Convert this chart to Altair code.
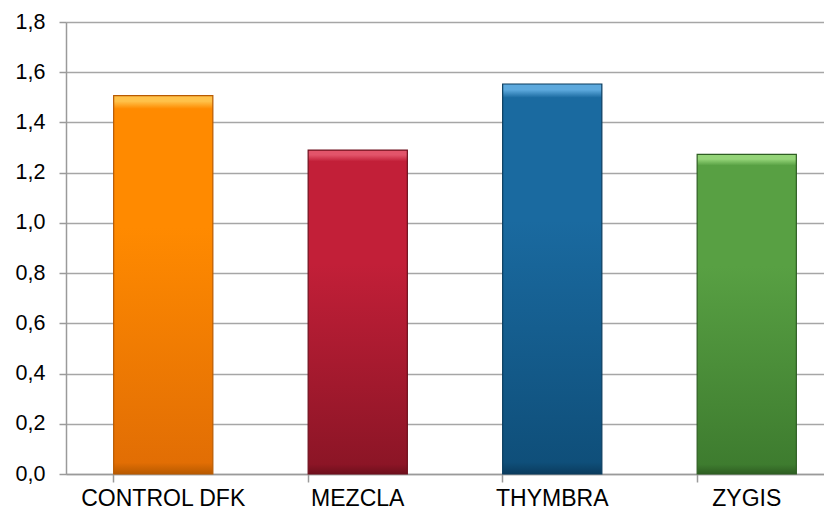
import altair as alt
import pandas as pd

categories = ["CONTROL DFK", "MEZCLA", "THYMBRA", "ZYGIS"]
values = [1.507, 1.290, 1.553, 1.273]
y_ticks = [0.0, 0.2, 0.4, 0.6, 0.8, 1.0, 1.2, 1.4, 1.6, 1.8]

# (highlight, main top, bottom, edge)
palettes = [
    ("#FFC24A", "#FF8A00", "#E26E04", "#B85A00"),
    ("#E2546A", "#C21F38", "#8C1526", "#6E0F1C"),
    ("#5DA9DD", "#1A6AA0", "#0F4F7A", "#0A3C5E"),
    ("#94D478", "#58A043", "#3E7C2F", "#2E5E22"),
]

df = pd.DataFrame({"cat": categories, "val": values})

FONT = "Liberation Sans"

x_enc = alt.X(
    "cat:N",
    sort=categories,
    scale=alt.Scale(domain=categories, range=[0, 778], paddingInner=0.49, paddingOuter=0.245),
    axis=alt.Axis(
        title=None, labelAngle=0, bandPosition=0, tickSize=8, labelPadding=5,
        labelFont=FONT, labelFontSize=23, labelColor="#000000",
        domainColor="#9A9A9A", tickColor="#9A9A9A", domainWidth=1.5, tickWidth=1.5,
        grid=False,
    ),
)
y_enc = alt.Y(
    "val:Q",
    scale=alt.Scale(domain=[0, 1.8], nice=False),
    axis=alt.Axis(
        title=None, values=y_ticks, tickSize=7, labelPadding=14,
        labelFont=FONT, labelFontSize=21.5, labelColor="#000000",
        labelExpr="replace(format(datum.value, '.1f'), '.', ',')",
        domainColor="#9A9A9A", tickColor="#9A9A9A", gridColor="#A6A6A6",
        domainWidth=1.5, tickWidth=1.5, gridWidth=1.5, grid=True,
    ),
)

layers = []
for cat, (hi, top, bot, edge) in zip(categories, palettes):
    grad = alt.Gradient(
        gradient="linear", x1=0, x2=0, y1=0, y2=1,
        stops=[
            alt.GradientStop(color=hi, offset=0),
            alt.GradientStop(color=hi, offset=0.015),
            alt.GradientStop(color=top, offset=0.035),
            alt.GradientStop(color=top, offset=0.35),
            alt.GradientStop(color=bot, offset=0.97),
            alt.GradientStop(color=edge, offset=1),
        ],
    )
    layers.append(
        alt.Chart(df)
        .transform_filter(alt.datum.cat == cat)
        .mark_bar(color=grad, stroke=edge, strokeWidth=1.2)
        .encode(x=x_enc, y=y_enc)
    )

chart = (
    alt.layer(*layers)
    .properties(
        width=758, height=452,
        autosize=alt.AutoSizeParams(type="none"),
        padding={"left": 58, "top": 14, "right": 0, "bottom": 38},
    )
    .configure_view(stroke=None)
    .configure(background="#FFFFFF")
)

chart.save("out.html", embed_options={"renderer": "svg", "actions": False})
